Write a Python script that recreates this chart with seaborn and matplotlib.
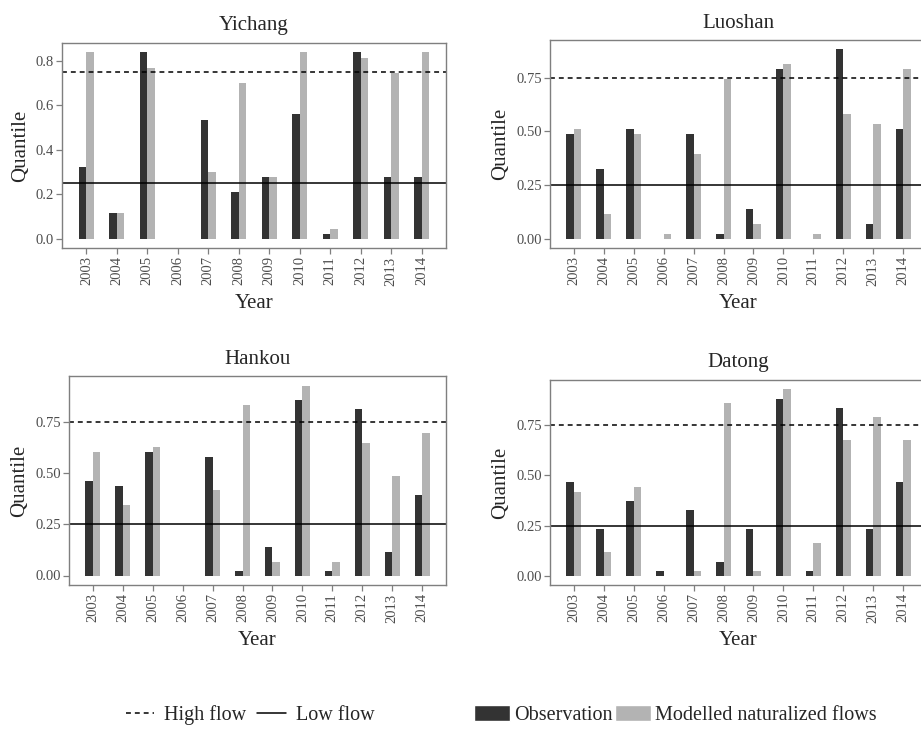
import numpy as np
import pandas as pd
import matplotlib
matplotlib.use("Agg")
import matplotlib.pyplot as plt
import seaborn as sns
from matplotlib.lines import Line2D
from matplotlib.patches import Patch

years = [str(y) for y in range(2003, 2015)]
stations = ["Yichang", "Luoshan", "Hankou", "Datong"]

yichang_obs = [0.324, 0.115, 0.837, 0.0, 0.535, 0.209, 0.278, 0.558, 0.022, 0.837, 0.278, 0.278]
yichang_mod = [0.837, 0.115, 0.767, 0.0, 0.300, 0.698, 0.278, 0.837, 0.045, 0.813, 0.744, 0.837]
luoshan_obs = [0.487, 0.325, 0.510, 0.0, 0.487, 0.023, 0.139, 0.789, 0.0, 0.881, 0.070, 0.510]
luoshan_mod = [0.510, 0.116, 0.487, 0.023, 0.394, 0.742, 0.070, 0.812, 0.023, 0.580, 0.533, 0.789]
hankou_obs = [0.463, 0.440, 0.603, 0.0, 0.580, 0.023, 0.139, 0.859, 0.023, 0.814, 0.116, 0.395]
hankou_mod = [0.603, 0.347, 0.628, 0.0, 0.417, 0.836, 0.068, 0.929, 0.068, 0.650, 0.488, 0.696]
datong_obs = [0.465, 0.232, 0.372, 0.023, 0.325, 0.070, 0.232, 0.883, 0.023, 0.836, 0.232, 0.465]
datong_mod = [0.418, 0.116, 0.441, 0.0, 0.023, 0.859, 0.023, 0.929, 0.163, 0.674, 0.790, 0.674]

series_names = ["Observation", "Modelled naturalized flows"]
high_flow = 0.75
low_flow = 0.25

data = {
    "Yichang": (yichang_obs, yichang_mod),
    "Luoshan": (luoshan_obs, luoshan_mod),
    "Hankou": (hankou_obs, hankou_mod),
    "Datong": (datong_obs, datong_mod),
}

sns.set_theme(style="white")
plt.rcParams["font.family"] = ["Liberation Serif", "DejaVu Serif"]

W, H = 921, 729
fig = plt.figure(figsize=(W / 100, H / 100), dpi=100)

# pixel boxes: left, right, top, bottom
boxes = {
    "Yichang": (62, 446, 43, 248),
    "Luoshan": (550, 927, 40, 248),
    "Hankou": (69, 446, 376, 585),
    "Datong": (550, 927, 380, 585),
}
yticks = {
    "Yichang": ([0, 0.2, 0.4, 0.6, 0.8], "{:.1f}"),
    "Luoshan": ([0, 0.25, 0.5, 0.75], "{:.2f}"),
    "Hankou": ([0, 0.25, 0.5, 0.75], "{:.2f}"),
    "Datong": ([0, 0.25, 0.5, 0.75], "{:.2f}"),
}
colors = ["#333333", "#b3b3b3"]
edge = "#7f7f7f"
dash = (0, (3.2, 2.6))

for st in stations:
    l, r, t, b = boxes[st]
    ax = fig.add_axes([l / W, 1 - b / H, (r - l) / W, (b - t) / H])
    obs, mod = data[st]
    df = pd.DataFrame({
        "Year": years * 2,
        "Quantile": list(obs) + list(mod),
        "Series": [series_names[0]] * len(years) + [series_names[1]] * len(years),
    })
    sns.barplot(data=df, x="Year", y="Quantile", hue="Series", order=years,
                hue_order=series_names, palette=colors, width=0.5,
                errorbar=None, ax=ax, legend=False, linewidth=0, saturation=1)
    ax.axhline(high_flow, color="black", lw=1.1, ls=dash)
    ax.axhline(low_flow, color="black", lw=1.1)
    mx = max(max(obs), max(mod))
    ax.set_ylim(-0.05 * mx, 1.05 * mx)
    ax.set_xlim(-0.8, len(years) - 1 + 0.8)
    tv, fmt = yticks[st]
    ax.set_yticks(tv)
    ax.set_yticklabels([fmt.format(v) for v in tv])
    ax.tick_params(axis="x", rotation=90)
    ax.tick_params(axis="both", which="major", length=4, width=0.9, color=edge,
                   labelsize=10.5, labelcolor="#4d4d4d", pad=2, bottom=True, left=True)
    for sp in ax.spines.values():
        sp.set_color(edge)
        sp.set_linewidth(1.0)
    ax.set_title(st, fontsize=15, pad=9)
    ax.set_ylabel("Quantile", fontsize=15, labelpad=4)
    ax.set_xlabel("Year", fontsize=15, labelpad=6)

line_handles = [Line2D([], [], color="black", lw=1.1, ls=dash),
                Line2D([], [], color="black", lw=1.1)]
leg1 = fig.legend(line_handles, ["High flow", "Low flow"], loc="center left",
                  bbox_to_anchor=(126 / W, 1 - 715 / H), ncol=2, frameon=False,
                  fontsize=14.5, handlelength=1.4, handletextpad=0.5,
                  columnspacing=0.55, borderaxespad=0, borderpad=0)
fill_handles = [Patch(facecolor=colors[0]), Patch(facecolor=colors[1])]
leg2 = fig.legend(fill_handles, series_names, loc="center left",
                  bbox_to_anchor=(474 / W, 1 - 715 / H), ncol=2, frameon=False,
                  fontsize=14.5, handlelength=1.8, handleheight=0.85,
                  handletextpad=0.2, columnspacing=0.1, borderaxespad=0,
                  borderpad=0)

fig.savefig("out.png", dpi=100)
